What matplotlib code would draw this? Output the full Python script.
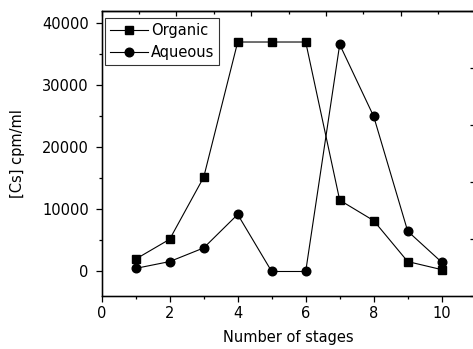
import matplotlib
matplotlib.use("Agg")
import matplotlib.pyplot as plt
from matplotlib.ticker import MultipleLocator

plt.rcParams['font.family'] = ['DejaVu Sans']

# data
stages = [1, 2, 3, 4, 5, 6, 7, 8, 9, 10]
organic = [2000, 5200, 15200, 37000, 37000, 37000, 11500, 8200, 1600, 300]
aqueous = [500, 1600, 3800, 9200, 0, 0, 36600, 25000, 6500, 1500]

W, H = 473, 349
fig = plt.figure(figsize=(W / 100, H / 100), dpi=100)
# axes frame runs slightly past the right edge of the image
left, right, top, bottom = 101.7, 475.7, 11.0, 296.3
ax = fig.add_axes([left / W, 1 - bottom / H, (right - left) / W, (bottom - top) / H])

ax.plot(stages, organic, color='black', lw=0.8, marker='s', ms=5.5, label='Organic')
ax.plot(stages, aqueous, color='black', lw=0.8, marker='o', ms=6.2, label='Aqueous')

ax.set_xlim(0, 11)
ax.set_ylim(-4000, 42000)
ax.xaxis.set_major_locator(MultipleLocator(2))
ax.xaxis.set_minor_locator(MultipleLocator(1))
ax.yaxis.set_major_locator(MultipleLocator(10000))
ax.yaxis.set_minor_locator(MultipleLocator(5000))
ax.tick_params(which='major', direction='out', length=4.3, width=0.9, labelsize=10.5)
ax.tick_params(axis='x', which='major', pad=2.5)
ax.tick_params(axis='y', which='major', pad=5.0)
ax.tick_params(which='minor', direction='out', length=2.3, width=0.9)
ax.tick_params(top=False, right=False)

for sp in ax.spines.values():
    sp.set_linewidth(1.0)
ax.spines['right'].set_visible(False)

ax.set_xlabel('Number of stages', fontsize=10.5, labelpad=7)
ax.set_ylabel('[Cs] cpm/ml', fontsize=10.5, labelpad=12)

# extra unlabeled scales on top and right (inward ticks)
axt = ax.twiny()
axt.set_xlim(0, 5)
axt.xaxis.set_major_locator(MultipleLocator(1))
axt.xaxis.set_minor_locator(MultipleLocator(0.5))
axt.tick_params(axis='x', which='major', direction='in', length=3.6, width=0.9, labeltop=False)
axt.tick_params(axis='x', which='minor', direction='in', length=2.0, width=0.9)
axt.spines['right'].set_visible(False)
axt.spines['top'].set_linewidth(1.0)

axr = ax.twinx()
axr.set_ylim(0, 5)
axr.yaxis.set_major_locator(MultipleLocator(1))
axr.yaxis.set_minor_locator(MultipleLocator(0.5))
axr.tick_params(axis='y', which='major', direction='in', length=4.0, width=0.9, labelright=False)
axr.tick_params(axis='y', which='minor', direction='in', length=2.0, width=0.9)
axr.spines['right'].set_visible(False)

leg = ax.legend(loc='upper left', bbox_to_anchor=(0.009, 0.975), borderaxespad=0,
                fontsize=10.5, frameon=True, fancybox=False, edgecolor='black',
                handlelength=2.6, handletextpad=0.2, labelspacing=0.45,
                borderpad=0.35)
leg.get_frame().set_linewidth(0.8)
leg.set_zorder(5)

fig.savefig('out.png', dpi=100)
